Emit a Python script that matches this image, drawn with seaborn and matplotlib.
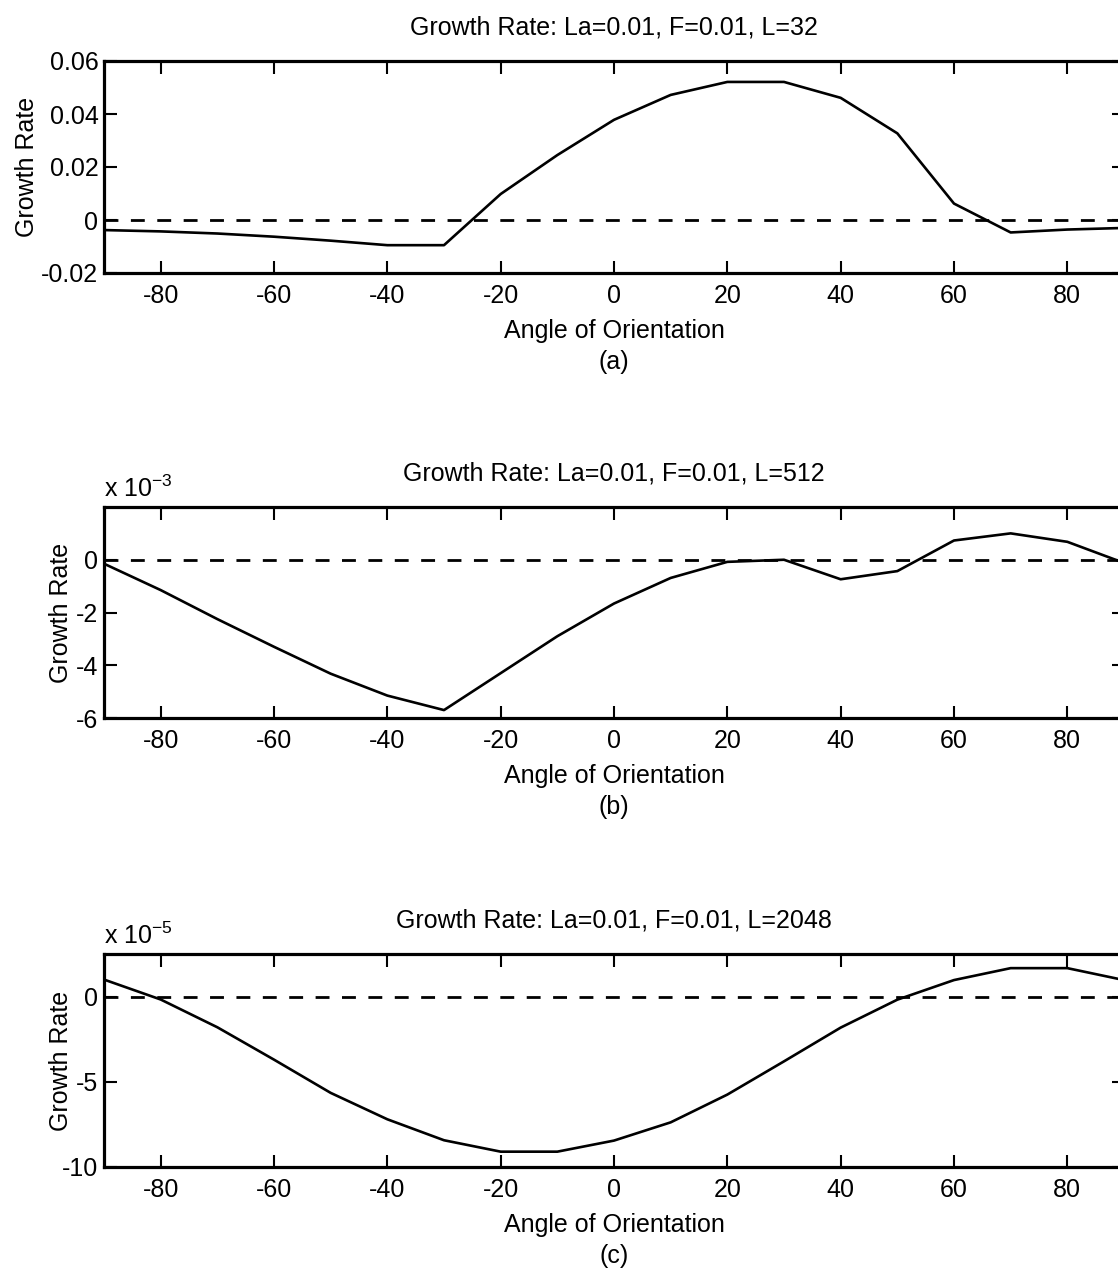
import numpy as np
import pandas as pd
import matplotlib
matplotlib.use("Agg")
import matplotlib.pyplot as plt
import seaborn as sns

# ---------------- data ----------------
angles = list(range(-90, 91, 10))

rate_L32 = [-0.0038, -0.0043, -0.0051, -0.0063, -0.0078, -0.0095, -0.0095,
            0.0098, 0.0245, 0.0378, 0.0472, 0.0521, 0.0521, 0.0461,
            0.0327, 0.0062, -0.0047, -0.0036, -0.0030]

# values in units of 1e-3
rate_L512 = [-0.15, -1.15, -2.25, -3.30, -4.32, -5.15, -5.70, -4.30, -2.90,
             -1.66, -0.69, -0.08, 0.00, -0.74, -0.43, 0.73, 1.00, 0.68, -0.12]

# values in units of 1e-5
rate_L2048 = [1.00, -0.17, -1.80, -3.70, -5.65, -7.20, -8.43, -9.10, -9.10,
              -8.45, -7.38, -5.75, -3.80, -1.82, -0.18, 0.97, 1.67, 1.67, 0.97]

titles = ["Growth Rate: La=0.01, F=0.01, L=32",
          "Growth Rate: La=0.01, F=0.01, L=512",
          "Growth Rate: La=0.01, F=0.01, L=2048"]
panel_tags = ["(a)", "(b)", "(c)"]
offset_labels = [None, r"x 10$^{-3}$", r"x 10$^{-5}$"]
ylims = [(-0.02, 0.06), (-6, 2), (-10, 2.5)]
yticks = [[-0.02, 0, 0.02, 0.04, 0.06], [-6, -4, -2, 0], [-10, -5, 0]]
ytick_labels = [["-0.02", "0", "0.02", "0.04", "0.06"],
                ["-6", "-4", "-2", "0"],
                ["-10", "-5", "0"]]
xticks = list(range(-80, 81, 20))
xtick_labels = [str(v) for v in xticks]

# ---------------- style ----------------
sns.set_theme(style="ticks")
plt.rcParams["font.family"] = ["Liberation Sans", "DejaVu Sans"]
plt.rcParams["mathtext.fontset"] = "custom"
plt.rcParams["mathtext.rm"] = "Liberation Sans"
plt.rcParams["mathtext.it"] = "Liberation Sans"
for k in ["text.color", "axes.labelcolor", "xtick.color", "ytick.color",
          "axes.edgecolor"]:
    plt.rcParams[k] = "black"

W, H = 1118, 1273
fig = plt.figure(figsize=(W / 100, H / 100), dpi=100)

left_px, right_px = 104, 1124
axes_px = [(61, 273), (507, 718), (954, 1167)]
ylabel_x = [-0.064, -0.030, -0.030]

FS = 18
series = [rate_L32, rate_L512, rate_L2048]

for i, (top, bot) in enumerate(axes_px):
    ax = fig.add_axes([left_px / W, 1 - bot / H,
                       (right_px - left_px) / W, (bot - top) / H])
    df = pd.DataFrame({"Angle": angles, "Rate": series[i]})
    sns.lineplot(data=df, x="Angle", y="Rate", ax=ax, color="black",
                 linewidth=1.9, estimator=None, sort=False)
    ax.plot([-90, 90], [0, 0], color="black", linewidth=2.0,
            dashes=(5, 4.5))
    ax.set_xlim(-90, 90)
    ax.set_ylim(*ylims[i])
    ax.set_xticks(xticks)
    ax.set_xticklabels(xtick_labels, fontsize=FS)
    ax.set_yticks(yticks[i])
    ax.set_yticklabels(ytick_labels[i], fontsize=FS)
    ax.tick_params(direction="in", length=9, width=1.5, top=True,
                   right=True, pad=4, colors="black")
    ax.tick_params(axis="x", pad=8)
    for sp in ax.spines.values():
        sp.set_linewidth(2.3)
        sp.set_color("black")
    ax.set_ylabel("Growth Rate", fontsize=FS)
    ax.yaxis.set_label_coords(ylabel_x[i], 0.5)
    ax.set_xlabel("Angle of Orientation\n" + panel_tags[i], fontsize=FS,
                  linespacing=1.35, labelpad=8)
    ax.set_title(titles[i], fontsize=FS, pad=19)
    if offset_labels[i]:
        ax.text(0.0, 1.025, offset_labels[i], transform=ax.transAxes,
                ha="left", va="bottom", fontsize=FS)

fig.savefig("out.png", dpi=100)
